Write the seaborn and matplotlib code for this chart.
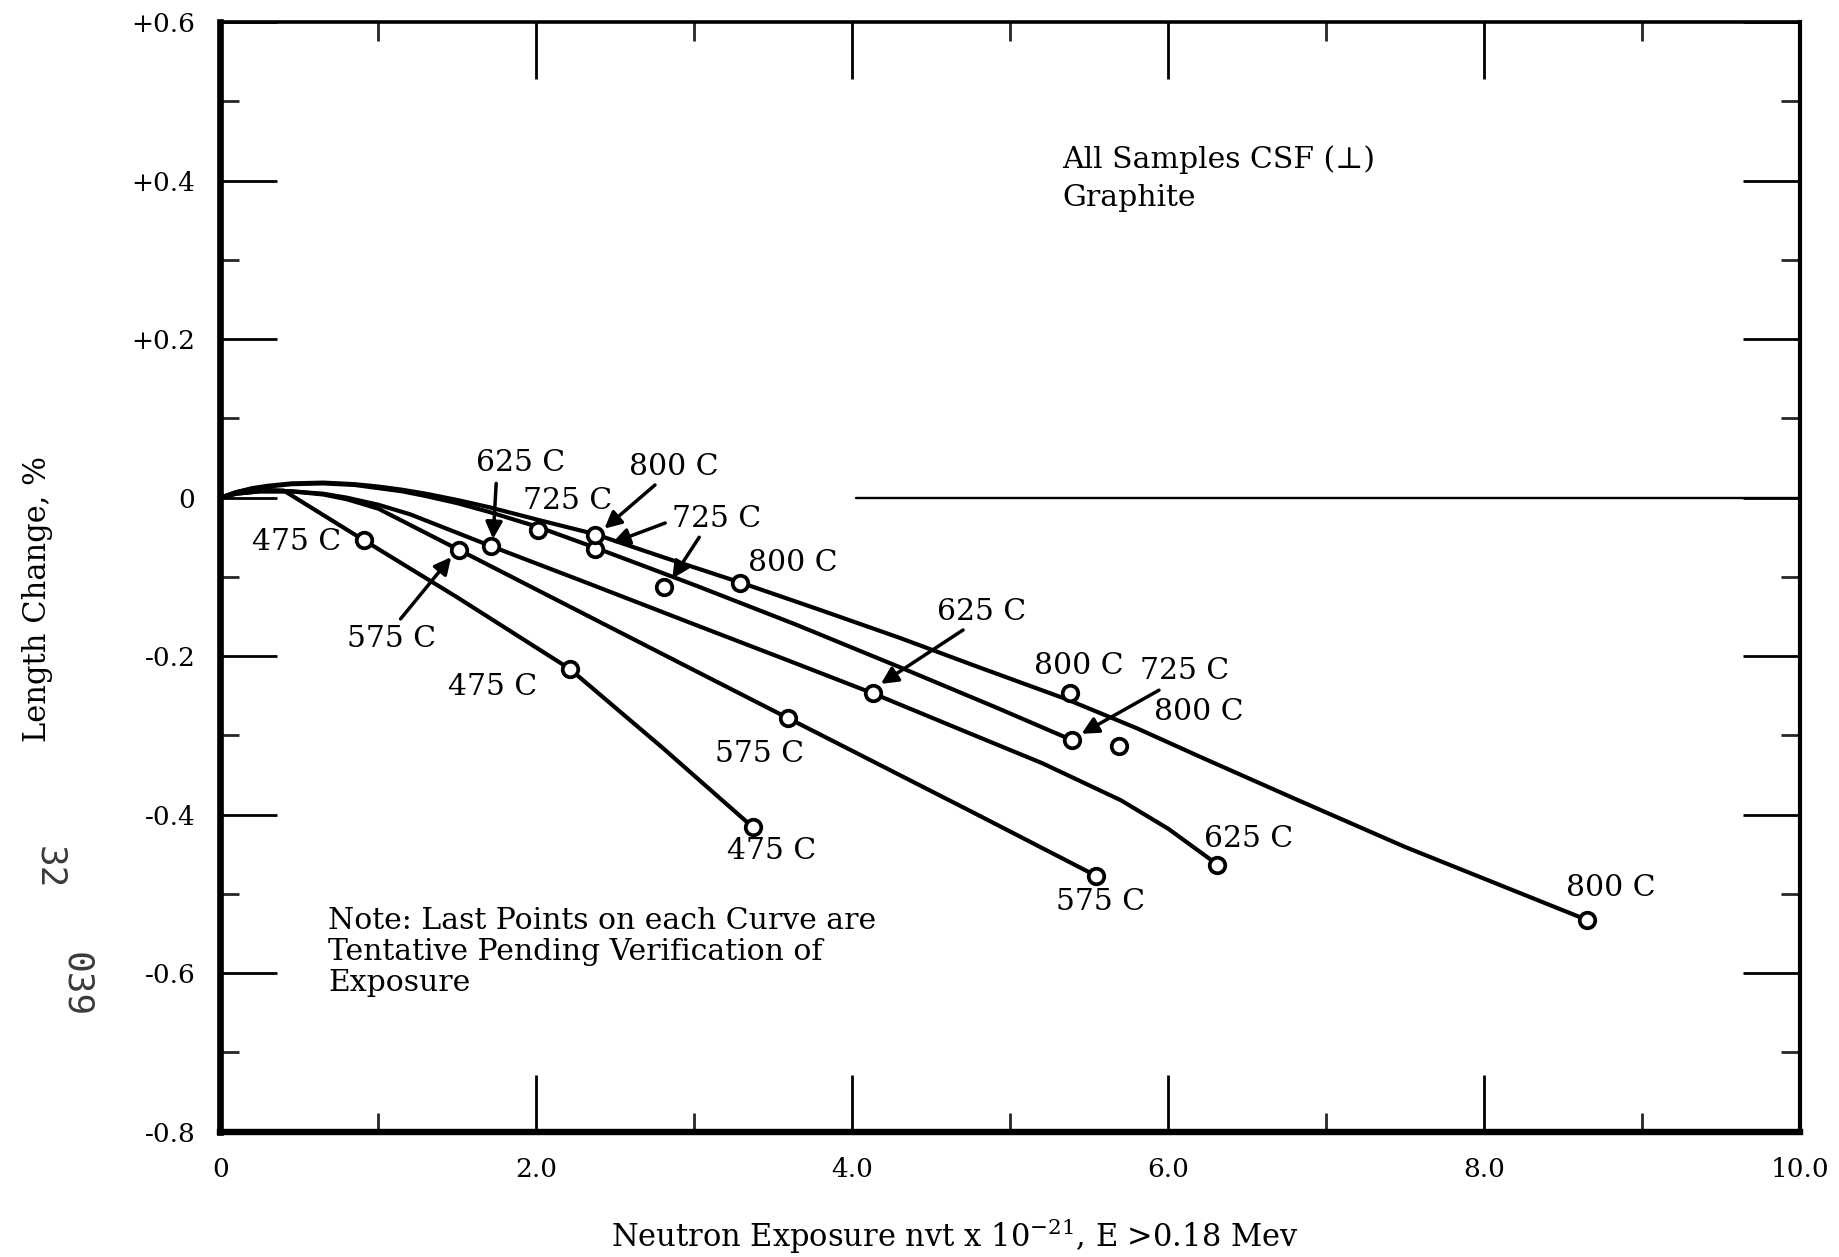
import matplotlib
matplotlib.use("Agg")
import matplotlib.pyplot as plt
import pandas as pd
import seaborn as sns

# ---- fitted curves (exposure, length change %) ----
curve_475_x = [0, 0.1, 0.25, 0.4, 0.91, 1.5, 2.21, 2.8, 3.37]
curve_475_y = [0, 0.006, 0.010, 0.009, -0.054, -0.126, -0.216, -0.316, -0.416]

curve_575_x = [0, 0.1, 0.25, 0.45, 0.65, 0.8, 1.0, 1.51, 2.0, 2.5, 3.0, 3.59, 4.2, 4.8, 5.54]
curve_575_y = [0, 0.005, 0.008, 0.008, 0.004, -0.002, -0.014, -0.066, -0.116, -0.167, -0.218,
               -0.278, -0.340, -0.401, -0.477]

curve_625_x = [0, 0.1, 0.25, 0.45, 0.65, 0.8, 1.0, 1.2, 1.71, 2.3, 3.0, 3.6, 4.13, 4.7, 5.2,
               5.7, 6.0, 6.31]
curve_625_y = [0, 0.005, 0.008, 0.008, 0.005, 0.0, -0.009, -0.021, -0.061, -0.106, -0.160,
               -0.206, -0.247, -0.294, -0.335, -0.382, -0.418, -0.463]

curve_725_x = [0, 0.1, 0.2, 0.3, 0.45, 0.65, 0.85, 1.0, 1.15, 1.3, 1.5, 1.7, 2.01, 2.37, 3.01,
               3.64, 4.3, 4.9, 5.39]
curve_725_y = [0, 0.007, 0.011, 0.014, 0.017, 0.018, 0.016, 0.012, 0.008, 0.002, -0.007, -0.018,
               -0.037, -0.063, -0.111, -0.160, -0.214, -0.264, -0.306]

curve_800_x = [0, 0.1, 0.2, 0.3, 0.45, 0.65, 0.85, 1.0, 1.15, 1.3, 1.5, 1.7, 2.01, 2.37, 2.8,
               3.29, 3.8, 4.3, 4.8, 5.35, 5.8, 6.2, 6.8, 7.5, 8.1, 8.65]
curve_800_y = [0, 0.007, 0.012, 0.015, 0.018, 0.019, 0.017, 0.014, 0.010, 0.005, -0.003, -0.012,
               -0.028, -0.046, -0.075, -0.107, -0.142, -0.177, -0.214, -0.254, -0.291, -0.327,
               -0.380, -0.441, -0.489, -0.533]

# ---- measured points ----
pts_475_x = [0.91, 2.21, 3.37]
pts_475_y = [-0.054, -0.216, -0.416]
pts_575_x = [1.51, 3.59, 5.54]
pts_575_y = [-0.066, -0.278, -0.477]
pts_625_x = [1.71, 4.13, 6.31]
pts_625_y = [-0.061, -0.247, -0.463]
pts_725_x = [2.01, 2.37, 2.81, 5.39]
pts_725_y = [-0.041, -0.065, -0.113, -0.306]
pts_800_x = [2.37, 3.29, 5.38, 5.69, 8.65]
pts_800_y = [-0.047, -0.108, -0.247, -0.314, -0.533]

# zero reference line
zero_x = [4.02, 10.0]
zero_y = [0.0, 0.0]

# ---- axis ticks ----
x_ticks = [0, 2, 4, 6, 8, 10]
x_tick_labels = ["0", "2.0", "4.0", "6.0", "8.0", "10.0"]
x_minor = [1, 3, 5, 7, 9]
y_ticks = [0.6, 0.4, 0.2, 0.0, -0.2, -0.4, -0.6, -0.8]
y_tick_labels = ["+0.6", "+0.4", "+0.2", "0", "-0.2", "-0.4", "-0.6", "-0.8"]
y_minor = [0.5, 0.3, 0.1, -0.1, -0.3, -0.5, -0.7]

# ---- curve labels ----
label_texts = ["475 C", "575 C", "625 C", "725 C", "800 C", "725 C", "800 C", "625 C",
               "800 C", "725 C", "800 C", "475 C", "575 C", "475 C", "575 C", "625 C", "800 C"]
label_x = [0.48, 1.08, 1.90, 2.20, 2.87, 3.14, 3.62, 4.82,
           5.43, 6.10, 6.19, 1.72, 3.41, 3.49, 5.57, 6.51, 8.80]
label_y = [-0.056, -0.178, 0.044, -0.004, 0.039, -0.027, -0.083, -0.144,
           -0.212, -0.219, -0.271, -0.239, -0.323, -0.446, -0.510, -0.431, -0.493]

# pointer arrows: tail -> head
arrow_x0 = [1.14, 1.745, 2.75, 2.815, 3.03, 4.70, 5.94]
arrow_y0 = [-0.153, 0.018, 0.016, -0.032, -0.050, -0.167, -0.243]
arrow_x1 = [1.46, 1.725, 2.43, 2.48, 2.86, 4.18, 5.45]
arrow_y1 = [-0.075, -0.052, -0.039, -0.057, -0.102, -0.235, -0.298]

temps = ["475 C", "575 C", "625 C", "725 C", "800 C"]
curve_xs = [curve_475_x, curve_575_x, curve_625_x, curve_725_x, curve_800_x]
curve_ys = [curve_475_y, curve_575_y, curve_625_y, curve_725_y, curve_800_y]
pts_xs = [pts_475_x, pts_575_x, pts_625_x, pts_725_x, pts_800_x]
pts_ys = [pts_475_y, pts_575_y, pts_625_y, pts_725_y, pts_800_y]

curves = pd.concat(
    [pd.DataFrame({"exposure": cx, "change": cy, "temp": t})
     for t, cx, cy in zip(temps, curve_xs, curve_ys)], ignore_index=True)
points = pd.concat(
    [pd.DataFrame({"exposure": px, "change": py, "temp": t})
     for t, px, py in zip(temps, pts_xs, pts_ys)], ignore_index=True)
zero_df = pd.DataFrame({"exposure": zero_x, "change": zero_y})

sns.set_theme(style="white")
plt.rcParams["font.family"] = ["DejaVu Serif", "DejaVu Sans"]
plt.rcParams["mathtext.fontset"] = "dejavuserif"

fig = plt.figure(figsize=(18.39, 12.57), dpi=100)
fig.patch.set_facecolor("white")
ax = fig.add_axes([0.1199, 0.0998, 0.979 - 0.1199, 0.9823 - 0.0998])
ax.set_facecolor("white")

sns.lineplot(data=zero_df, x="exposure", y="change", color="black", lw=1.7,
             estimator=None, sort=False, ax=ax)
for t in temps:
    sub = curves[curves["temp"] == t]
    sns.lineplot(data=sub, x="exposure", y="change", color="black", lw=3.0,
                 estimator=None, sort=False, ax=ax)
for ln in ax.lines:
    ln.set_solid_joinstyle("round")
    ln.set_solid_capstyle("round")

sns.scatterplot(data=points, x="exposure", y="change", marker="o", s=125,
                color="white", edgecolor="black", linewidth=2.7, zorder=5,
                legend=False, ax=ax)

ax.set_xlim(0, 10)
ax.set_ylim(-0.8, 0.6)
ax.set_xticks(x_ticks)
ax.set_xticklabels(x_tick_labels)
ax.set_xticks(x_minor, minor=True)
ax.set_yticks(y_ticks)
ax.set_yticklabels(y_tick_labels)
ax.set_yticks(y_minor, minor=True)

ax.tick_params(which="major", direction="in", length=41, width=2.0,
               top=True, right=True, bottom=True, left=True,
               labelsize=19, colors="black")
ax.tick_params(axis="y", which="major", pad=18)
ax.tick_params(axis="x", which="major", pad=18)
ax.tick_params(which="minor", direction="in", length=14, width=2.0,
               top=True, right=True, bottom=True, left=True)

for side, w in [("left", 4.8), ("bottom", 4.6), ("top", 2.6), ("right", 3.0)]:
    ax.spines[side].set_visible(True)
    ax.spines[side].set_linewidth(w)
    ax.spines[side].set_color("black")

ax.set_ylabel("Length Change, %", fontsize=22, color="black")
ax.yaxis.set_label_coords(-0.106, 0.48)
ax.set_xlabel(r"Neutron Exposure nvt x $10^{-21}$, E >0.18 Mev", fontsize=22, color="black")
ax.xaxis.set_label_coords(0.465, -0.076)

for txt, lx, ly in zip(label_texts, label_x, label_y):
    ax.text(lx, ly, txt, fontsize=21.5, ha="center", va="center", color="black")

for x0, y0, x1, y1 in zip(arrow_x0, arrow_y0, arrow_x1, arrow_y1):
    ax.annotate("", xy=(x1, y1), xytext=(x0, y0),
                arrowprops=dict(arrowstyle="-|>", color="black", lw=2.5,
                                mutation_scale=25, shrinkA=0, shrinkB=0))

ax.text(5.33, 0.416, "All Samples CSF (\u22a5)", fontsize=21.5, ha="left",
        va="baseline", color="black")
ax.text(5.33, 0.368, "Graphite", fontsize=21.5, ha="left", va="baseline", color="black")

ax.text(0.68, -0.516,
        "Note: Last Points on each Curve are\nTentative Pending Verification of\nExposure",
        fontsize=21.5, ha="left", va="top", linespacing=1.15, color="black")

fig.text(0.0268, 0.3097, "32", rotation=-90, fontsize=26, ha="center", va="center",
         color="#3a3a3a", family="DejaVu Sans Mono")
fig.text(0.0415, 0.2164, "039", rotation=-90, fontsize=26, ha="center", va="center",
         color="#3a3a3a", family="DejaVu Sans Mono")

fig.savefig("out.png", dpi=100, facecolor="white")
